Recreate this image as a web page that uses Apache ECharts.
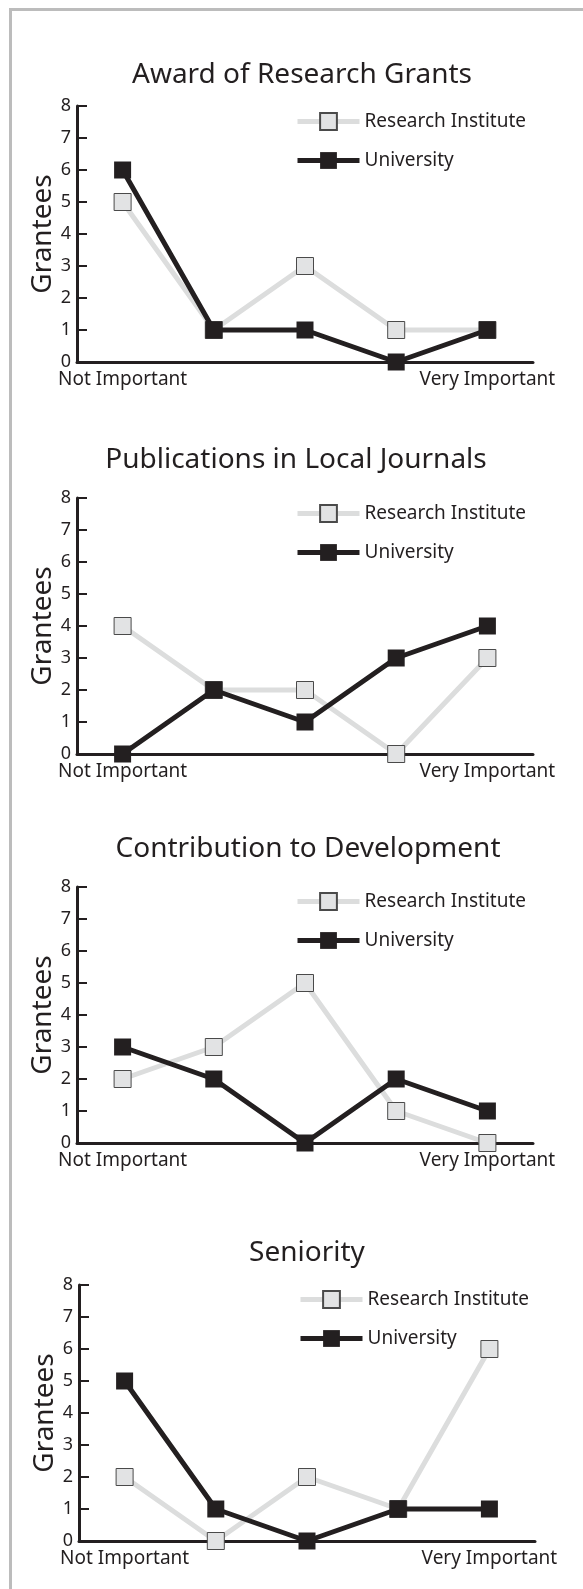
<!DOCTYPE html>
<html>
<head>
<meta charset="utf-8">
<script src="https://cdn.jsdelivr.net/npm/echarts@6/dist/echarts.min.js"></script>
<style>
  html, body { margin: 0; padding: 0; background: #fff; }
  #frame { position: absolute; left: 9px; top: 8px; width: 580px; height: 1590px;
           border-top: 3px solid #bcbcbc; border-left: 3px solid #bcbcbc; }
  #chart { position: absolute; left: 0; top: 0; width: 583px; height: 1589px; }
</style>
</head>
<body>
<div id="frame"></div>
<div id="chart"></div>
<script>
const categories = ['Not Important', '', '', '', 'Very Important'];
const panelTitles = ['Award of Research Grants', 'Publications in Local Journals',
                     'Contribution to Development', 'Seniority'];
const seriesNames = ['Research Institute', 'University'];

// Grantees per importance level
const instituteAward = [5, 1, 3, 1, 1];
const universityAward = [6, 1, 1, 0, 1];
const institutePublications = [4, 2, 2, 0, 3];
const universityPublications = [0, 2, 1, 3, 4];
const instituteContribution = [2, 3, 5, 1, 0];
const universityContribution = [3, 2, 0, 2, 1];
const instituteSeniority = [2, 0, 2, 1, 6];
const universitySeniority = [5, 1, 0, 1, 1];

const instituteData = [instituteAward, institutePublications, instituteContribution, instituteSeniority];
const universityData = [universityAward, universityPublications, universityContribution, universitySeniority];

// panel placement (grid top is the "8" line)
const panels = [
  { left: 77, right: 50, top: 106, titleX: 302, titleY: 59, legendLeft: 295, legendTop: 112 },
  { left: 77, right: 50, top: 498, titleX: 296, titleY: 444, legendLeft: 295, legendTop: 504 },
  { left: 77, right: 50, top: 887, titleX: 308, titleY: 833, legendLeft: 295, legendTop: 892 },
  { left: 79, right: 48, top: 1285, titleX: 307, titleY: 1237, legendLeft: 298, legendTop: 1290 }
];

const ink = '#231f20';
const font = '"Noto Sans", "Open Sans", sans-serif';

let chart = echarts.init(document.getElementById('chart'));

let option = {
  backgroundColor: 'transparent',
  animation: false,
  textStyle: { fontFamily: font, color: ink },
  title: [], grid: [], xAxis: [], yAxis: [], legend: [], series: []
};

panels.forEach(function (p, i) {
  option.title.push({
    text: panelTitles[i],
    left: p.titleX,
    top: p.titleY,
    padding: 0,
    textAlign: 'center',
    textStyle: { fontFamily: font, fontSize: 28, fontWeight: 'normal', color: ink, lineHeight: 32 }
  });
  option.grid.push({ left: p.left, right: p.right, top: p.top, height: 256 });
  option.xAxis.push({
    type: 'category',
    gridIndex: i,
    data: categories,
    boundaryGap: true,
    axisLine: { lineStyle: { color: ink, width: 3 } },
    axisTick: { alignWithLabel: true, length: 6, lineStyle: { color: ink, width: 2 } },
    axisLabel: { interval: 0, margin: 8, fontSize: 19, color: ink, fontFamily: font }
  });
  option.yAxis.push({
    type: 'value',
    gridIndex: i,
    min: 0, max: 8, interval: 1,
    name: 'Grantees',
    nameLocation: 'middle',
    nameGap: 20,
    nameMoveOverlap: false,
    nameTextStyle: { fontSize: 28, color: ink, fontFamily: font },
    axisLine: { show: true, lineStyle: { color: ink, width: 3 } },
    axisTick: { show: true, inside: true, length: 10, lineStyle: { color: ink, width: 2 } },
    axisLabel: { margin: 6, fontSize: 18, color: ink, fontFamily: font },
    splitLine: { show: false }
  });
  option.legend.push({
    orient: 'vertical',
    left: p.legendLeft,
    top: p.legendTop,
    padding: 0,
    itemWidth: 62,
    itemHeight: 21,
    itemGap: 20,
    selectedMode: false,
    data: [
      { name: seriesNames[0], lineStyle: { width: 5, color: '#dcdddd' } },
      { name: seriesNames[1], lineStyle: { width: 5, color: ink } }
    ],
    textStyle: { fontSize: 19, color: ink, fontFamily: font }
  });
  option.series.push({
    name: seriesNames[0],
    type: 'line',
    xAxisIndex: i, yAxisIndex: i,
    data: instituteData[i],
    symbol: 'rect', symbolSize: 17,
    lineStyle: { color: '#dcdddd', width: 5 },
    itemStyle: { color: '#e2e3e4', borderColor: '#4a4a4a', borderWidth: 1 },
    emphasis: { disabled: true },
    z: 2
  });
  option.series.push({
    name: seriesNames[1],
    type: 'line',
    xAxisIndex: i, yAxisIndex: i,
    data: universityData[i],
    symbol: 'rect', symbolSize: 17,
    lineStyle: { color: ink, width: 5 },
    itemStyle: { color: ink, borderColor: ink, borderWidth: 0 },
    emphasis: { disabled: true },
    z: 3
  });
});

chart.setOption(option);
</script>
</body>
</html>
